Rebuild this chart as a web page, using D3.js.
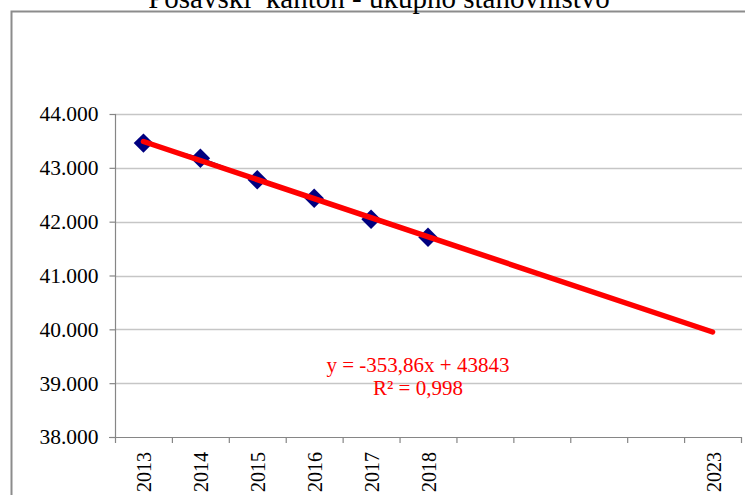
<!DOCTYPE html>
<html>
<head>
<meta charset="utf-8">
<script src="https://cdn.jsdelivr.net/npm/d3@7"></script>
<style>
  body { margin: 0; background: #fff; }
  text { font-family: 'Liberation Serif', 'Times New Roman', Tinos, 'DejaVu Serif', serif; }
</style>
</head>
<body>
<script>
// data
var years = ['2013','2014','2015','2016','2017','2018','2019','2020','2021','2022','2023'];
var yearLabels = ['2013','2014','2015','2016','2017','2018','','','','','2023'];
var population = [43459, 43180, 42777, 42437, 42046, 41712];
var yTicks = [38000, 39000, 40000, 41000, 42000, 43000, 44000];
var trendSlope = -353.86, trendIntercept = 43843;
var eqText = ['y = -353,86x + 43843', 'R\u00b2 = 0,998'];
var title = 'Posavski  kanton - ukupno stanovni\u0161tvo';

var width = 745, height = 495;
var serif = "'Liberation Serif', 'Times New Roman', serif";

var svg = d3.select('body').append('svg')
    .attr('width', width)
    .attr('height', height)
    .attr('font-family', serif);

// outer chart frame
svg.append('rect')
    .attr('x', 11.5).attr('y', 11.5)
    .attr('width', 760).attr('height', 520)
    .attr('fill', 'none')
    .attr('stroke', '#8c8c8c')
    .attr('stroke-width', 2);

svg.append('text')
    .attr('x', 379).attr('y', 8)
    .attr('text-anchor', 'middle')
    .attr('font-family', serif)
    .style('font-size', '29px')
    .style('white-space', 'pre')
    .text(title);

var x = d3.scaleBand()
    .domain(years)
    .range([115, 741])
    .padding(0);

var y = d3.scaleLinear()
    .domain([38000, 44000])
    .range([437, 114]);

// gridlines
svg.append('g').selectAll('line')
    .data(yTicks.slice(1))
    .enter().append('line')
        .attr('x1', 115).attr('x2', 742)
        .attr('y1', function(d) { return Math.round(y(d)) + 0.5 })
        .attr('y2', function(d) { return Math.round(y(d)) + 0.5 })
        .attr('stroke', '#c6c6c6')
        .attr('stroke-width', 1.5);

// y axis
var yAxis = svg.append('g')
    .attr('transform', 'translate(115.5,0)')
    .call(d3.axisLeft(y).tickValues(yTicks).tickSize(6).tickPadding(11)
        .tickFormat(function(d) { return d3.format(',')(d).replace(',', '.') }));
yAxis.attr('font-family', serif);
yAxis.select('.domain').attr('stroke', '#868686').attr('stroke-width', 1.2)
    .attr('d', 'M0,' + y(44000) + 'V' + y(38000));
yAxis.selectAll('.tick line').attr('stroke', '#868686').attr('stroke-width', 1.2);
yAxis.selectAll('.tick text')
    .attr('font-family', serif)
    .style('font-size', '21.5px')
    .attr('fill', '#000');

// x axis
var xg = svg.append('g');
xg.append('line')
    .attr('x1', 109).attr('x2', 742)
    .attr('y1', y(38000) + 0.5).attr('y2', y(38000) + 0.5)
    .attr('stroke', '#868686').attr('stroke-width', 1.2);
xg.selectAll('line.tk')
    .data(d3.range(years.length + 1))
    .enter().append('line')
        .attr('class', 'tk')
        .attr('x1', function(i) { return x.range()[0] + i * x.step() + 0.5 })
        .attr('x2', function(i) { return x.range()[0] + i * x.step() + 0.5 })
        .attr('y1', y(38000)).attr('y2', y(38000) + 6)
        .attr('stroke', '#868686').attr('stroke-width', 1.2);
xg.selectAll('text')
    .data(years)
    .enter().append('text')
        .attr('transform', function(d) { return 'translate(' + (x(d) + x.bandwidth() / 2 + 1) + ',452) rotate(-90)' })
        .attr('text-anchor', 'end')
        .attr('dy', '0.35em')
        .attr('font-family', serif)
        .style('font-size', '20px')
        .text(function(d, i) { return yearLabels[i] });

// data line
var line = d3.line()
    .x(function(d, i) { return x(years[i]) + x.bandwidth() / 2 })
    .y(function(d) { return y(d) });

svg.append('path')
    .datum(population)
    .attr('d', line)
    .attr('fill', 'none')
    .attr('stroke', '#000080')
    .attr('stroke-width', 2);

svg.append('g').selectAll('path')
    .data(population)
    .enter().append('path')
        .attr('d', d3.symbol(d3.symbolSquare, 190))
        .attr('transform', function(d, i) { return 'translate(' + (x(years[i]) + x.bandwidth() / 2) + ',' + y(d) + ') rotate(45)' })
        .attr('fill', '#000080');

// trend line
var trend = [1, years.length].map(function(n) { return trendIntercept + trendSlope * n });
svg.append('line')
    .attr('x1', x(years[0]) + x.bandwidth() / 2)
    .attr('y1', y(trend[0]))
    .attr('x2', x(years[years.length - 1]) + x.bandwidth() / 2)
    .attr('y2', y(trend[1]))
    .attr('stroke', '#ff0000')
    .attr('stroke-width', 5.5)
    .attr('stroke-linecap', 'round');

svg.append('g').selectAll('text')
    .data(eqText)
    .enter().append('text')
        .attr('x', 418)
        .attr('y', function(d, i) { return 372 + i * 23 })
        .attr('text-anchor', 'middle')
        .attr('fill', '#ff0000')
        .attr('font-family', serif)
        .style('font-size', '21px')
        .text(function(d) { return d });
</script>
</body>
</html>
